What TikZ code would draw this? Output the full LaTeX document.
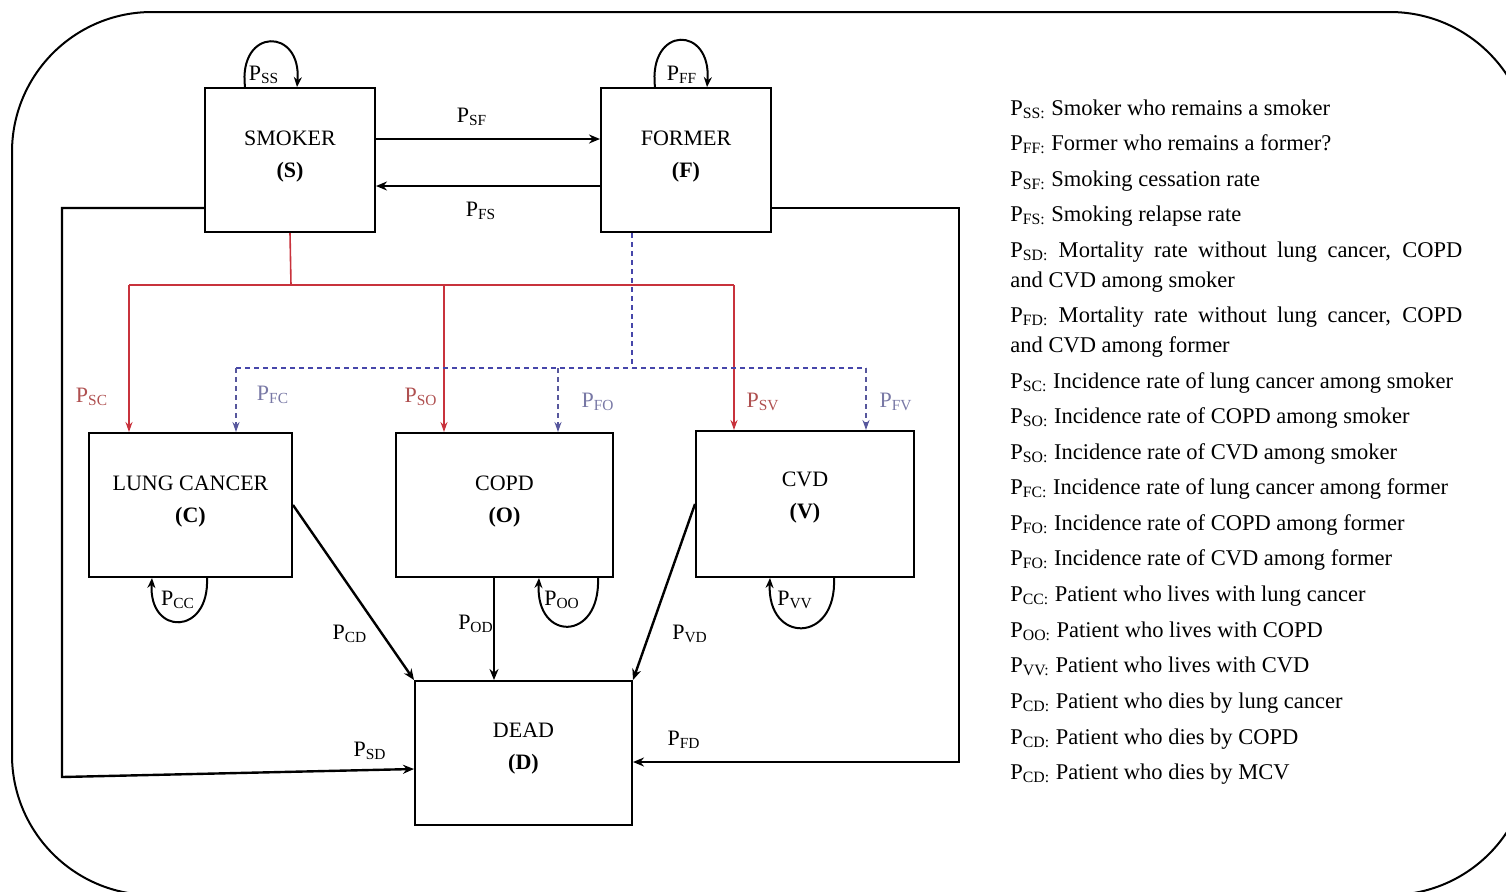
\documentclass[tikz,border=0pt]{standalone}
\usepackage{fontspec}
\setmainfont{LiberationSerif}[Extension=.ttf,UprightFont=*-Regular,BoldFont=*-Bold,ItalicFont=*-Italic,BoldItalicFont=*-BoldItalic]
\usetikzlibrary{arrows.meta,calc}
\newcommand\pp[1]{P\textsubscript{#1}}
\definecolor{redl}{RGB}{200,50,60}
\definecolor{bluel}{RGB}{70,70,170}
\definecolor{redt}{RGB}{175,80,80}
\definecolor{bluet}{RGB}{120,120,165}
\begin{document}
\begin{tikzpicture}[x=0.5pt,y=-0.5pt,font=\fontsize{11}{13}\selectfont,
  box/.style={draw,line width=1pt,inner sep=0pt},
  btxt/.style={align=center,inner sep=0pt},
  arr/.style={-{Stealth[length=5.5pt,width=4.5pt]},line width=1.2pt},
  loopa/.style={-{Stealth[length=5pt,width=4pt]},line width=1pt},
  redline/.style={draw=redl,line width=0.8pt},
  redarr/.style={redline,-{Stealth[length=5pt,width=3.5pt]}},
  blueline/.style={draw=bluel,line width=0.8pt,dash pattern=on 2.5pt off 2pt},
  bluearr/.style={blueline,-{Stealth[length=5pt,width=3.5pt]},draw=bluel!70!gray},
  lab/.style={inner sep=0pt},
  leg/.style={anchor=base west,inner sep=0pt,font=\fontsize{11.25}{13}\selectfont}]
\useasboundingbox (0,0) rectangle (1506,891);
\clip (0,0) rectangle (1506,891);
\draw[line width=1pt,rounded corners=70pt] (12,12) rectangle (1530,895);

% boxes
\node[box,minimum width=85pt,minimum height=72pt] (S) at (290,160) {};
\node[box,minimum width=85pt,minimum height=72pt] (F) at (686,160) {};
\node[box,minimum width=101.5pt,minimum height=72pt] (C) at (190.5,505) {};
\node[box,minimum width=108.5pt,minimum height=72pt] (O) at (504.5,505) {};
\node[box,minimum width=109pt,minimum height=73pt] (V) at (805,504) {};
\node[box,minimum width=108.5pt,minimum height=72pt] (D) at (523.5,753) {};
\node[btxt] (St) at (290,157) {SMOKER\\[3pt]\textbf{(S)}};
\node[btxt] (Ft) at (686,157) {FORMER\\[3pt]\textbf{(F)}};
\node[btxt] (Ct) at (190.5,502) {LUNG CANCER\\[3pt]\textbf{(C)}};
\node[btxt] (Ot) at (504.5,502) {COPD\\[3pt]\textbf{(O)}};
\node[btxt] (Vt) at (805,498) {CVD\\[3pt]\textbf{(V)}};
\node[btxt] (Dt) at (523.5,749) {DEAD\\[3pt]\textbf{(D)}};

% S <-> F
\draw[arr] ($(S.east)+(0,-21)$) -- ($(F.west)+(0,-21)$);
\draw[arr] ($(F.west)+(0,26)$) -- ($(S.east)+(0,26)$);
\node[lab] (lSF) at (472,117) {\pp{SF}};
\node[lab] (lFS) at (481,211) {\pp{FS}};

% self loops top
\draw[loopa] ($(S.north)+(-45,0)$) .. controls ($(S.north)+(-52,-60)$) and ($(S.north)+(12,-60)$) .. ($(S.north)+(7,0)$);
\node[lab] (lSS) at (264,75) {\pp{SS}};
\draw[loopa] ($(F.north)+(-31,0)$) .. controls ($(F.north)+(-38,-62)$) and ($(F.north)+(26,-62)$) .. ($(F.north)+(21,0)$);
\node[lab] (lFF) at (682,75) {\pp{FF}};

% red (smoker) tree
\coordinate (rJ) at (291,285);
\coordinate (rL) at (129,285);
\coordinate (rM) at (444,285);
\coordinate (rR) at (734,285);
\draw[redline] (S.south) -- (rJ);
\draw[redline] (rL) -- (rR);
\draw[redarr] (rL) -- (rL |- C.north);
\draw[redarr] (rM) -- (rM |- O.north);
\draw[redarr] (rR) -- (rR |- V.north);
\node[lab,text=redt] (lSC) at (92,397) {\pp{SC}};
\node[lab,text=redt] (lSO) at (421,397) {\pp{SO}};
\node[lab,text=redt] (lSV) at (763,402) {\pp{SV}};

% blue (former) tree
\coordinate (bT) at ($(F.south)+(-54,0)$);
\coordinate (bL) at (236,368);
\coordinate (bM) at (558,368);
\coordinate (bR) at (866,368);
\draw[blueline] (bT) -- (bT |- bL);
\draw[blueline] (bL) -- (bR);
\draw[bluearr] (bL) -- (bL |- C.north);
\draw[bluearr] (bM) -- (bM |- O.north);
\draw[bluearr] (bR) -- (bR |- V.north);
\node[lab,text=bluet] (lFC) at (273,395) {\pp{FC}};
\node[lab,text=bluet] (lFO) at (598,402) {\pp{FO}};
\node[lab,text=bluet] (lFV) at (896,402) {\pp{FV}};

% self loops bottom
\draw[loopa] ($(C.south)+(16.5,0)$) .. controls ($(C.south)+(19,58)$) and ($(C.south)+(-42,58)$) .. ($(C.south)+(-38.5,0)$);
\node[lab] (lCC) at (178,600) {\pp{CC}};
\draw[loopa] ($(O.south)+(93.5,0)$) .. controls ($(O.south)+(96,64)$) and ($(O.south)+(31,64)$) .. ($(O.south)+(34.5,0)$);
\node[lab] (lOO) at (562,600) {\pp{OO}};
\draw[loopa] ($(V.south)+(29,0)$) .. controls ($(V.south)+(32,66)$) and ($(V.south)+(-38,66)$) .. ($(V.south)+(-35,0)$);
\node[lab] (lVV) at (795,600) {\pp{VV}};

% to dead
\draw[arr] (C.east) -- (D.north west);
\node[lab] (lCD) at (350,634) {\pp{CD}};
\coordinate (oD) at ($(O.south)+(-10.5,0)$);
\draw[arr] (oD) -- (oD |- D.north);
\node[lab] (lOD) at (476,624) {\pp{OD}};
\draw[arr] (V.west) -- (D.north east);
\node[lab] (lVD) at (690,634) {\pp{VD}};
\coordinate (sdC) at (62,777);
\draw[arr] ($(S.west)+(0,48)$) -| (sdC) -- ($(D.west)+(0,16)$);
\node[lab] (lSD) at (370,751) {\pp{SD}};
\coordinate (fdC) at (959,762);
\draw[arr] ($(F.east)+(0,48)$) -| (fdC) -- ($(D.east)+(0,9)$);
\node[lab] (lFD) at (684,740) {\pp{FD}};

% legend
\node[leg] (g1) at (1010,115) {\pp{SS:} Smoker who remains a smoker};
\node[leg] (g2) at (1010,150) {\pp{FF:} Former who remains a former?};
\node[leg] (g3) at (1010,186) {\pp{SF:} Smoking cessation rate};
\node[leg] (g4) at (1010,221) {\pp{FS:} Smoking relapse rate};
\node[leg] (g5) at (1010,257) {\makebox[226pt][s]{\pp{SD:} Mortality rate without lung cancer, COPD}};
\node[leg] (g6) at (1010,287) {and CVD among smoker};
\node[leg] (g7) at (1010,322) {\makebox[226pt][s]{\pp{FD:} Mortality rate without lung cancer, COPD}};
\node[leg] (g8) at (1010,352) {and CVD among former};
\node[leg] (g9) at (1010,388) {\pp{SC:} Incidence rate of lung cancer among smoker};
\node[leg] (g10) at (1010,423) {\pp{SO:} Incidence rate of COPD among smoker};
\node[leg] (g11) at (1010,459) {\pp{SO:} Incidence rate of CVD among smoker};
\node[leg] (g12) at (1010,494) {\pp{FC:} Incidence rate of lung cancer among former};
\node[leg] (g13) at (1010,530) {\pp{FO:} Incidence rate of COPD among former};
\node[leg] (g14) at (1010,565) {\pp{FO:} Incidence rate of CVD among former};
\node[leg] (g15) at (1010,601) {\pp{CC:} Patient who lives with lung cancer};
\node[leg] (g16) at (1010,637) {\pp{OO:} Patient who lives with COPD};
\node[leg] (g17) at (1010,672) {\pp{VV:} Patient who lives with CVD};
\node[leg] (g18) at (1010,708) {\pp{CD:} Patient who dies by lung cancer};
\node[leg] (g19) at (1010,744) {\pp{CD:} Patient who dies by COPD};
\node[leg] (g20) at (1010,779) {\pp{CD:} Patient who dies by MCV};
\end{tikzpicture}
\end{document}
